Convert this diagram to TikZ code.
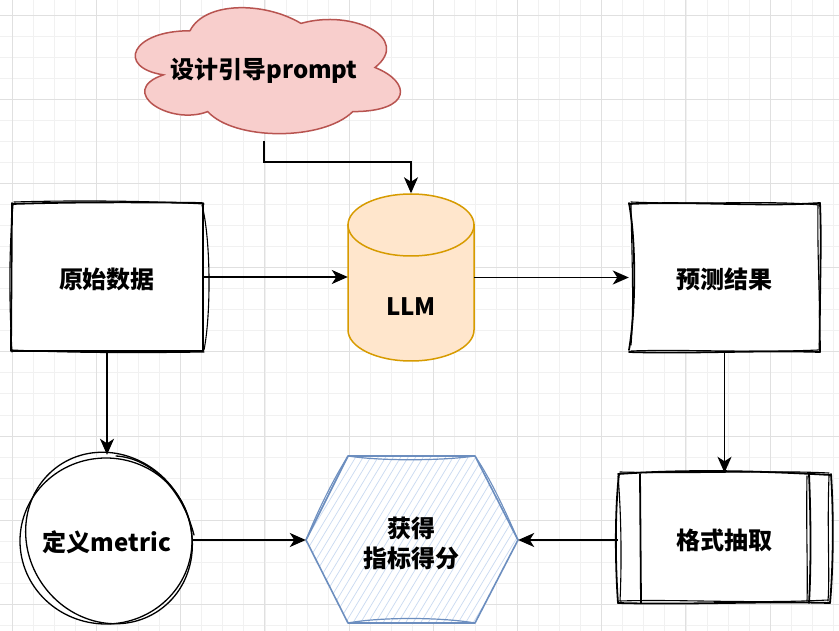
\documentclass[tikz,border=0pt]{standalone}
\usepackage{fontspec}
\setmainfont{Noto Sans CJK SC}
\usetikzlibrary{arrows.meta}
\definecolor{gridmaj}{HTML}{E0E0E0}
\definecolor{gridmin}{HTML}{F1F1F1}
\definecolor{cloudfill}{HTML}{F8CECC}
\definecolor{cloudline}{HTML}{B85450}
\definecolor{cylfill}{HTML}{FFE6CC}
\definecolor{cylline}{HTML}{D79B00}
\definecolor{hexline}{HTML}{6C8EBF}
\definecolor{hexhatch}{HTML}{C9DAF1}
\tikzset{
  gmin/.style={gridmin, line width=0.8pt},
  gmaj/.style={gridmaj, line width=0.9pt},
  sk/.style={draw=black, line width=1.8pt, line join=round, line cap=round},
  skthin/.style={draw=black, line width=1.1pt, line join=round, line cap=round},
  holder/.style={draw=none, inner sep=0pt, minimum width=#1},
  lbl/.style={font=\fontsize{24pt}{30pt}\selectfont\bfseries, align=center, inner sep=0pt},
  arr/.style={draw=black, line width=1.8pt, -{Stealth[length=16pt, width=14pt, inset=4.5pt]}},
}
\begin{document}
\begin{tikzpicture}[x=1pt, y=-1pt]
\useasboundingbox (0,0) rectangle (839,631);
\fill[white] (0,0) rectangle (839,631);
% grid
\foreach \i in {0,...,40} \draw[gmin] ({-8.75+21.05*\i},0) -- ++(0,631);
\foreach \i in {0,...,30} \draw[gmin] (0,{-6.05+21.05*\i}) -- ++(839,0);
\foreach \i in {0,...,9} \draw[gmaj] ({12.3+84.2*\i},0) -- ++(0,631);
\foreach \i in {0,...,7} \draw[gmaj] (0,{15+84.2*\i}) -- ++(839,0);

% ---------- placeholders (named nodes) ----------
\node[holder=296pt, minimum height=147pt] (cloud) at (264,67.5) {};
\node[holder=191pt, minimum height=148pt] (raw) at (107.5,277) {};
\node[holder=126pt, minimum height=168pt] (llm) at (411,277.5) {};
\node[holder=191pt, minimum height=149pt] (pred) at (724.5,277.5) {};
\node[holder=213pt, minimum height=130pt] (fmt) at (724.5,538) {};
\node[holder=212pt, minimum height=167pt] (hex) at (412,540) {};
\node[holder=172pt, minimum height=170pt] (metric) at (107,540) {};

% ---------- cloud ----------
\begin{scope}[shift={(116,-6)}]
\filldraw[fill=cloudfill, draw=cloudline, line width=1.5pt]
  (74,36.75) .. controls (14.8,36.75) and (0,73.5) .. (47.36,80.85)
  .. controls (0,97) and (53.28,132.3) .. (91.76,117.6)
  .. controls (118.4,147) and (207.2,147) .. (236.8,117.6)
  .. controls (296,117.6) and (296,88.2) .. (259,73.5)
  .. controls (296,44.1) and (236.8,14.7) .. (185,29.4)
  .. controls (148,7.35) and (88.8,7.35) .. (74,36.75) -- cycle;
\end{scope}
\node[lbl] at (264,71) {设计引导prompt};

% ---------- raw data box ----------
\fill[white] (12,203) rectangle (203,351);
\draw[sk] (12,204) .. controls (70,202) and (140,202) .. (202,203);
\draw[skthin] (14,202) .. controls (80,200) and (150,201) .. (204,204);
\draw[sk] (203,203) -- (203,351);
\draw[skthin] (202,205) .. controls (211,240) and (211,315) .. (204,350);
\draw[sk] (203,351) -- (12,351);
\draw[skthin] (12,350) .. controls (70,353) and (140,353) .. (204,352);
\draw[sk] (12,203) -- (11,351);
\draw[skthin] (13,205) .. controls (9,250) and (9,300) .. (12,352);
\node[lbl] at (107,279) {原始数据};

% ---------- LLM cylinder ----------
\filldraw[fill=cylfill, draw=cylline, line width=1.5pt]
  (348,225) -- (348,330)
  .. controls (348,347.1) and (376.2,361) .. (411,361)
  .. controls (445.8,361) and (474,347.1) .. (474,330)
  -- (474,225) -- cycle;
\filldraw[fill=cylfill, draw=cylline, line width=1.5pt] (411,225) ellipse [x radius=63pt, y radius=31pt];
\node[lbl] at (411,307) {LLM};

% ---------- prediction box ----------
\fill[white] (630,203) rectangle (820,352);
\draw[sk] (629,204) .. controls (690,201) and (760,207) .. (820,203);
\draw[skthin] (631,202) .. controls (700,205) and (770,200) .. (819,205);
\draw[sk] (820,203) .. controls (822,250) and (819,300) .. (820,352);
\draw[skthin] (818,205) .. controls (817,260) and (821,310) .. (819,350);
\draw[sk] (820,352) .. controls (760,350) and (690,354) .. (629,352);
\draw[skthin] (818,350) .. controls (750,353) and (680,349) .. (631,351);
\draw[sk] (629,203) .. controls (636,240) and (636,310) .. (629,350);
\draw[skthin] (631,205) .. controls (632,260) and (634,310) .. (631,345);
\node[lbl] at (724,279) {预测结果};

% ---------- format extraction (process) ----------
\fill[white] (618,473) rectangle (831,603);
\draw[sk] (618,474) .. controls (690,469) and (760,471) .. (831,475);
\draw[skthin] (620,472) .. controls (700,474) and (770,470) .. (829,473);
\draw[sk] (831,474) .. controls (834,520) and (833,570) .. (830,603);
\draw[skthin] (829,476) .. controls (827,530) and (830,575) .. (828,601);
\draw[sk] (830,603) .. controls (760,601) and (690,605) .. (618,603);
\draw[skthin] (828,600) .. controls (750,604) and (680,599) .. (620,601);
\draw[sk] (618,603) .. controls (615,560) and (615,510) .. (619,474);
\draw[skthin] (620,601) .. controls (622,560) and (621,510) .. (618,476);
\draw[sk] (640,474) -- (641,603);
\draw[sk] (809,474) .. controls (811,520) and (811,570) .. (809,603);
\draw[skthin] (807,476) .. controls (806,530) and (808,575) .. (807,601);
\node[lbl] at (724,540) {格式抽取};

% ---------- hexagon ----------
\begin{scope}
\clip (306,540) -- (348,456) -- (475,456) -- (518,540) -- (475,623) -- (348,623) -- cycle;
\fill[white] (300,450) rectangle (525,630);
\foreach \i in {0,...,52} \draw[hexhatch, line width=0.7pt] ({190+7.5*\i},632) -- ++(110,-182);
\end{scope}
\draw[hexline, line width=1.6pt, line join=round] (306,540) -- (348,456) -- (475,456) -- (518,540) -- (475,623) -- (348,623) -- cycle;
\draw[hexline, line width=1.2pt] (348,456) .. controls (380,461) and (440,461) .. (475,456);
\draw[hexline, line width=1.2pt] (348,623) .. controls (380,617) and (440,617) .. (475,623);
\draw[hexline, line width=1.1pt] (475,456) .. controls (490,478) and (505,510) .. (518,540);
\draw[hexline, line width=1.1pt] (348,456) .. controls (333,480) and (318,510) .. (306,540);
\node[lbl] at (411,543) {获得\\指标得分};

% ---------- define metric circle ----------
\fill[white] (107,540) ellipse [x radius=86pt, y radius=84pt];
\draw[skthin, line width=1.3pt] (106,541) ellipse [x radius=86pt, y radius=83pt];
\draw[skthin, line width=1.3pt, rotate around={35:(109,538)}] (109,538) ellipse [x radius=81pt, y radius=88pt];
\draw[skthin, line width=1.3pt] (116,456) .. controls (150,458) and (182,488) .. (194,535);
\node[lbl] at (107,542) {定义metric};

% ---------- connectors ----------
\draw[arr] (cloud.south) -- ++(0,21) -| (llm.north);
\draw[arr] (raw.east) -- (raw.east -| llm.west);
\draw[arr] (llm.east) -- (pred.west);
\draw[arr] (pred.south) -- (fmt.north);
\draw[arr] (fmt.west |- hex.east) -- (hex.east);
\draw[arr] (metric.east) -- (hex.west);
\draw[arr] (raw.south) -- (raw.south -| metric.north) -- (metric.north);
\end{tikzpicture}
\end{document}
